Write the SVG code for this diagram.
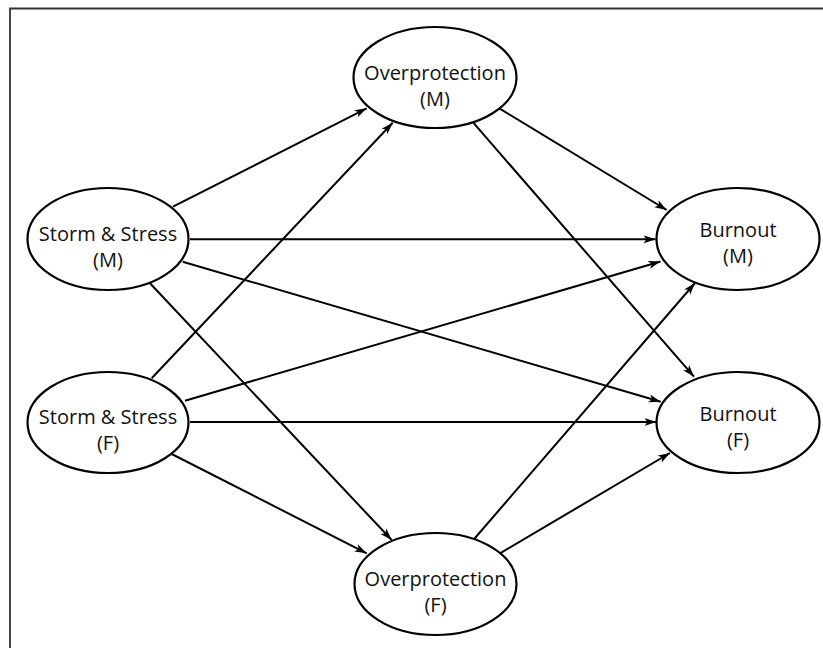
<svg xmlns="http://www.w3.org/2000/svg" width="823" height="648" viewBox="0 0 823 648">
<style>
.node ellipse{fill:#fff;stroke:#000;stroke-width:2.2}
.node text{font-family:"Open Sans","Noto Sans","DejaVu Sans",sans-serif;font-size:20px;fill:#111;text-anchor:middle}
.edges line{stroke:#000;stroke-width:2;marker-end:url(#arr)}
.frame{stroke:#333;stroke-width:1.8;fill:none}
</style>
<defs>
<marker id="arr" markerUnits="userSpaceOnUse" markerWidth="13" markerHeight="10" viewBox="0 0 13 10" refX="12" refY="5" orient="auto">
<path d="M0,1 L12,5 L0,9 L3,5 Z" fill="#000"/>
</marker>
</defs>
<rect width="823" height="648" fill="#fff"/>
<path class="frame" d="M10,648 L10,8.5 L823,8.5"/>
<g class="edges">
<line x1="173" y1="206.7" x2="366.7" y2="108.3"/>
<line x1="190" y1="239.3" x2="655.5" y2="239.3"/>
<line x1="182.7" y1="261.7" x2="660.7" y2="401.7"/>
<line x1="150" y1="283.3" x2="391.7" y2="540"/>
<line x1="151.7" y1="378.3" x2="392.7" y2="122.7"/>
<line x1="185" y1="400.7" x2="660.5" y2="261.5"/>
<line x1="190" y1="422" x2="656.5" y2="422"/>
<line x1="171.7" y1="454" x2="366.7" y2="553.3"/>
<line x1="499.3" y1="108.3" x2="666.7" y2="210"/>
<line x1="473.3" y1="122.7" x2="694" y2="376.7"/>
<line x1="473.3" y1="540" x2="695" y2="283"/>
<line x1="500" y1="553.3" x2="670" y2="453"/>
</g>
<g id="overprotection-m" class="node">
<ellipse cx="435" cy="77.5" rx="81.5" ry="50.5"/>
<text x="435" y="80">Overprotection</text>
<text x="435" y="106">(M)</text>
</g>
<g id="storm-stress-m" class="node">
<ellipse cx="108" cy="239" rx="80.5" ry="51"/>
<text x="108" y="241">Storm &amp; Stress</text>
<text x="108" y="267">(M)</text>
</g>
<g id="storm-stress-f" class="node">
<ellipse cx="108" cy="422.5" rx="80.5" ry="50.5"/>
<text x="108" y="424">Storm &amp; Stress</text>
<text x="108" y="450">(F)</text>
</g>
<g id="burnout-m" class="node">
<ellipse cx="738" cy="239" rx="81.5" ry="51"/>
<text x="738" y="237">Burnout</text>
<text x="738" y="263">(M)</text>
</g>
<g id="burnout-f" class="node">
<ellipse cx="738" cy="422.5" rx="81.5" ry="50.5"/>
<text x="738" y="421">Burnout</text>
<text x="738" y="447">(F)</text>
</g>
<g id="overprotection-f" class="node">
<ellipse cx="435.5" cy="584" rx="81" ry="51"/>
<text x="435.5" y="586">Overprotection</text>
<text x="435.5" y="612">(F)</text>
</g>
</svg>
